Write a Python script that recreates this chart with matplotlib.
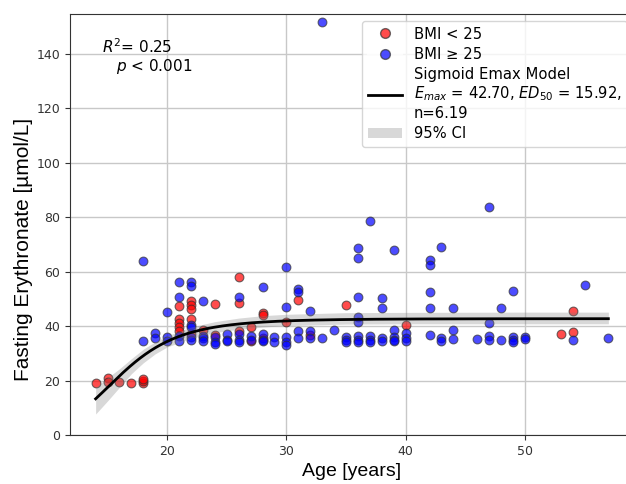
import numpy as np
import matplotlib.pyplot as plt
from matplotlib.lines import Line2D
from matplotlib.patches import Patch

# BMI < 25 (red)
red_age = [14, 15, 15, 16, 17, 18, 18, 18,
           21, 21, 21, 21, 21, 22, 22, 22, 22, 22,
           23, 24, 24, 26, 26, 26, 27, 27, 28, 28, 28, 30, 31, 32,
           35, 40, 53, 54, 54]
red_val = [19.2, 21.0, 19.4, 19.4, 19.2, 19.2, 19.8, 20.5,
           47.2, 42.5, 41.0, 39.5, 38.2, 49.0, 47.6, 46.2, 42.5, 37.0,
           38.5, 48.1, 36.7, 57.9, 48.3, 38.2, 39.7, 34.5, 44.7, 44.0, 35.5, 41.3, 49.5, 36.7,
           47.7, 40.4, 36.9, 45.6, 37.9]

# BMI >= 25 (blue)
blue_age = [18, 18, 19, 19, 20, 20, 20,
            21, 21, 21, 21, 22, 22, 22, 22, 22, 22,
            23, 23, 23, 23, 24, 24, 24, 25, 25, 25,
            26, 26, 26, 26, 27, 27, 28, 28, 28, 28, 29, 29,
            30, 30, 30, 30, 30, 31, 31, 31, 31, 32, 32, 32,
            33, 33, 34, 35, 35, 35,
            36, 36, 36, 36, 36, 36, 36, 36, 37, 37, 37, 37,
            38, 38, 38, 38, 39, 39, 39, 39, 39, 40, 40, 40,
            42, 42, 42, 42, 42, 43, 43, 43, 44, 44, 44,
            46, 47, 47, 47, 47, 48, 48, 49, 49, 49, 49, 50, 50,
            54, 55, 57]
blue_val = [64.0, 34.5, 37.5, 35.5, 45.0, 36.0, 34.5,
            56.0, 50.6, 36.3, 34.6, 56.0, 54.5, 40.5, 39.5, 36.0, 34.8,
            49.2, 36.5, 35.5, 34.5, 36.0, 34.2, 33.5, 37.0, 35.0, 34.5,
            50.8, 37.0, 35.0, 34.0, 36.5, 35.0, 54.3, 37.0, 35.0, 34.5, 36.0, 34.3,
            61.5, 47.1, 36.0, 34.0, 33.0, 53.5, 52.3, 38.0, 35.5, 45.5, 38.0, 35.5,
            151.5, 35.7, 38.7, 36.0, 35.0, 34.0,
            68.6, 65.0, 50.8, 43.4, 41.6, 36.5, 35.0, 34.0, 78.6, 36.5, 35.0, 34.0,
            50.4, 46.5, 35.5, 34.5, 67.9, 38.5, 36.0, 35.0, 34.5, 37.5, 35.5, 34.5,
            64.3, 62.3, 52.6, 46.7, 36.7, 69.1, 35.5, 34.5, 46.7, 38.5, 35.3,
            35.2, 83.8, 41.2, 36.4, 35.0, 46.7, 35.0, 52.7, 36.0, 35.0, 34.3, 35.8, 35.3,
            35.0, 55.0, 35.5]

# sigmoid Emax model parameters (from legend)
emax = 42.70
ed50 = 15.92
n_hill = 6.19

# 95% CI band
ci_age = [14, 15, 16, 17, 18, 19, 20, 22, 24, 26, 28, 30, 35, 40, 50, 57]
ci_low = [7.7, 12.5, 17.5, 22.5, 26.5, 29.8, 32.3, 35.5, 37.6, 38.8, 39.6, 40.2, 40.7, 40.8, 40.8, 40.8]
ci_high = [17.5, 21.0, 24.3, 28.0, 31.5, 34.2, 36.4, 39.6, 41.6, 42.9, 43.8, 44.3, 44.9, 45.0, 45.1, 45.1]

fig = plt.figure(figsize=(6.26, 4.84), dpi=100)
ax = fig.add_axes([70 / 626, 49 / 484, 564 / 626, 421 / 484])

ax.scatter(red_age, red_val, s=40, color='red', alpha=0.7, edgecolors='#333333', linewidths=0.8, zorder=2)
ax.scatter(blue_age, blue_val, s=40, color='blue', alpha=0.7, edgecolors='#333333', linewidths=0.8, zorder=2)

ax.fill_between(ci_age, ci_low, ci_high, color='gray', alpha=0.3, linewidth=0, zorder=3)
x_fit = np.linspace(14, 57, 300)
y_fit = emax * x_fit ** n_hill / (ed50 ** n_hill + x_fit ** n_hill)
ax.plot(x_fit, y_fit, color='black', linewidth=2, zorder=4)

ax.set_xlim(11.85, 59.15)
ax.set_ylim(0, 154.5)
ax.set_xticks([20, 30, 40, 50])
ax.set_yticks(range(0, 141, 20))
ax.tick_params(labelsize=9, colors='#333333')
ax.grid(True, color='#c8c8c8', linewidth=1)
ax.set_axisbelow(True)
for sp in ax.spines.values():
    sp.set_color('#333333')

ax.set_xlabel('Age [years]', fontsize=14, family='Liberation Sans')
ax.set_ylabel('Fasting Erythronate [µmol/L]', fontsize=15, family='Liberation Sans')
ax.yaxis.set_label_coords(-0.066, 0.44)

ax.text(0.057, 0.945, r'$R^2$= 0.25', transform=ax.transAxes, fontsize=11, va='top', ha='left')
ax.text(0.082, 0.898, r'$p$ < 0.001', transform=ax.transAxes, fontsize=11, va='top', ha='left')

handles = [
    Line2D([0], [0], marker='o', color='w', markerfacecolor='red', alpha=0.7, markeredgecolor='#333333',
           markersize=7, label='BMI < 25'),
    Line2D([0], [0], marker='o', color='w', markerfacecolor='blue', alpha=0.7, markeredgecolor='#333333',
           markersize=7, label='BMI ≥ 25'),
    Line2D([0], [0], color='black', linewidth=2,
           label='Sigmoid Emax Model\n$E_{max}$ = 42.70, $ED_{50}$ = 15.92,\nn=6.19'),
    Patch(facecolor='gray', alpha=0.3, label='95% CI'),
]
ax.legend(handles=handles, loc='upper right', fontsize=10.6, handlelength=2.3, labelspacing=0.35,
          borderaxespad=0.45)

fig.savefig('out.png', dpi=100)
